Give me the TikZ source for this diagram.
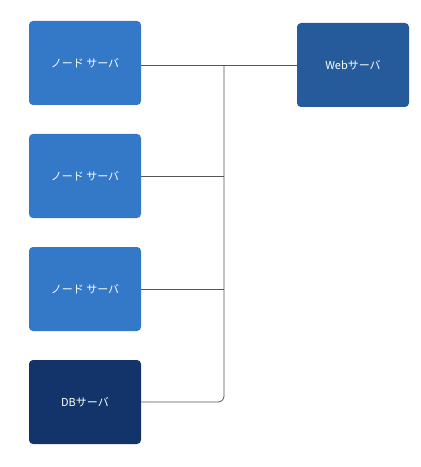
\documentclass[tikz,border=0pt]{standalone}
\usepackage{fontspec}
\setmainfont{Noto Sans CJK JP}
\begin{document}
\begin{tikzpicture}[x=1bp,y=-1bp,
  box/.style={minimum width=112bp,minimum height=84bp,rounded corners=4bp,text=white,font=\fontsize{11bp}{13bp}\selectfont,inner sep=0pt},
  nodebox/.style={box,fill=nodeblue},
  conn/.style={draw=linegray,line width=0.8bp}]
\definecolor{nodeblue}{HTML}{3478C8}
\definecolor{webblue}{HTML}{255B9B}
\definecolor{dbblue}{HTML}{12346A}
\definecolor{linegray}{HTML}{555555}
\useasboundingbox (0,0) rectangle (420,467);
\node[nodebox] (n1) at (85,63) {ノード サーバ};
\node[nodebox] (n2) at (85,176) {ノード サーバ};
\node[nodebox] (n3) at (85,289) {ノード サーバ};
\node[box,fill=dbblue] (db) at (85,402) {DBサーバ};
\node[box,fill=webblue] (web) at (353,65) {Webサーバ};
\coordinate (j) at (224,65.5);
\draw[conn] (n1.east |- j) -- (web.west |- j);
\draw[conn] (n2) -- (n2 -| j);
\draw[conn] (n3) -- (n3 -| j);
\draw[conn,rounded corners=6bp] (j) |- (db.east);
\end{tikzpicture}
\end{document}
